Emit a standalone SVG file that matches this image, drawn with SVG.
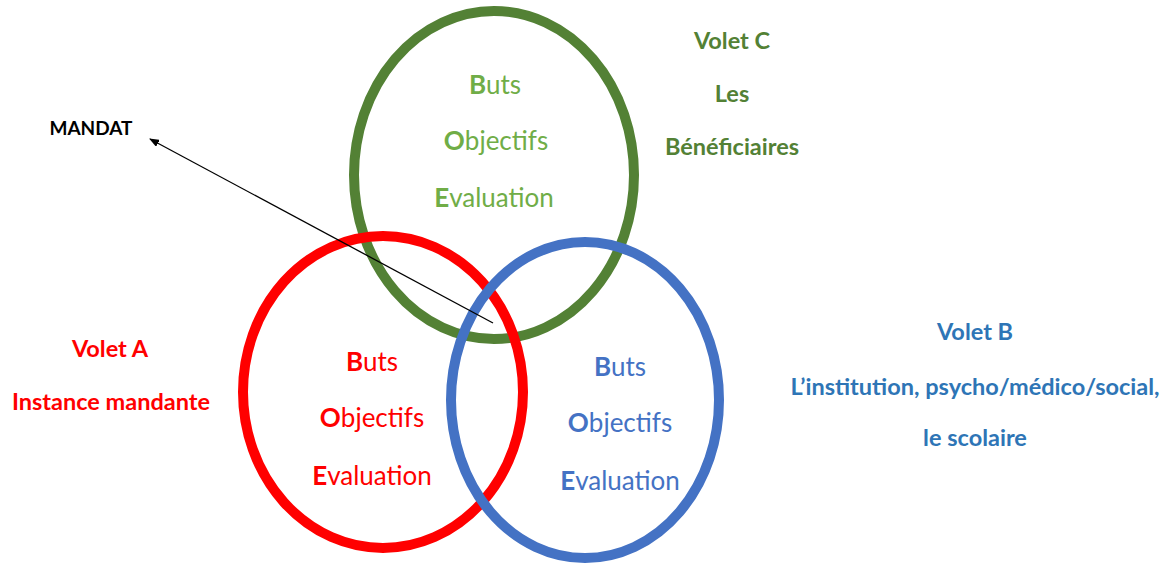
<svg xmlns="http://www.w3.org/2000/svg" width="1166" height="566" viewBox="0 0 1166 566">
  <defs>
    <marker id="arrowHead" markerWidth="10" markerHeight="8" refX="9" refY="4" orient="auto" markerUnits="userSpaceOnUse">
      <path d="M0,0 L10,4 L0,8 Z" fill="#000"/>
    </marker>
    <style>
      .ring { fill: none; stroke-width: 10; }
      .item { font-family: Lato, "Liberation Sans", sans-serif; font-size: 26px; text-anchor: middle; }
      .item tspan.cap { font-weight: bold; }
      .label { font-family: Lato, "Liberation Sans", sans-serif; font-size: 23.5px; font-weight: bold; text-anchor: middle; }
    </style>
  </defs>
  <rect width="1166" height="566" fill="#fff"/>

  <!-- Volet C : les bénéficiaires -->
  <g id="voletC">
    <ellipse class="ring" cx="494" cy="175" rx="140" ry="164" stroke="#538135"/>
    <text class="item" x="495" y="94" fill="#70AD47"><tspan class="cap">B</tspan>uts</text>
    <text class="item" x="496" y="150" fill="#70AD47"><tspan class="cap">O</tspan>bjectifs</text>
    <text class="item" x="494" y="207" fill="#70AD47"><tspan class="cap">E</tspan>valuation</text>
    <text class="label" x="732" y="49" fill="#538135">Volet C</text>
    <text class="label" x="732" y="102" fill="#538135">Les</text>
    <text class="label" x="732" y="155" fill="#538135">Bénéficiaires</text>
  </g>

  <!-- Volet A : instance mandante -->
  <g id="voletA">
    <ellipse class="ring" cx="383" cy="392" rx="140" ry="156" stroke="#FF0000"/>
    <text class="item" x="372" y="371" fill="#FF0000"><tspan class="cap">B</tspan>uts</text>
    <text class="item" x="372" y="427" fill="#FF0000"><tspan class="cap">O</tspan>bjectifs</text>
    <text class="item" x="372" y="485" fill="#FF0000"><tspan class="cap">E</tspan>valuation</text>
    <text class="label" x="110" y="357" fill="#FF0000">Volet A</text>
    <text class="label" x="111" y="410" fill="#FF0000">Instance mandante</text>
  </g>

  <!-- Volet B : institution -->
  <g id="voletB">
    <ellipse class="ring" cx="585" cy="400" rx="134" ry="158" stroke="#4472C4"/>
    <text class="item" x="620" y="376" fill="#4472C4"><tspan class="cap">B</tspan>uts</text>
    <text class="item" x="620" y="432" fill="#4472C4"><tspan class="cap">O</tspan>bjectifs</text>
    <text class="item" x="620" y="490" fill="#4472C4"><tspan class="cap">E</tspan>valuation</text>
    <text class="label" x="975" y="340" fill="#2E75B6">Volet B</text>
    <text class="label" x="975" y="395" fill="#2E75B6">L’institution, psycho/médico/social,</text>
    <text class="label" x="975" y="446" fill="#2E75B6">le scolaire</text>
  </g>

  <!-- Mandat -->
  <g id="mandat">
    <text x="91" y="135" font-family="Lato, 'Liberation Sans', sans-serif" font-size="19" font-weight="bold" text-anchor="middle" fill="#000">MANDAT</text>
  </g>

  <g id="connectors">
    <line x1="493" y1="323" x2="150" y2="139" stroke="#000" stroke-width="1.3" marker-end="url(#arrowHead)"/>
  </g>
</svg>
